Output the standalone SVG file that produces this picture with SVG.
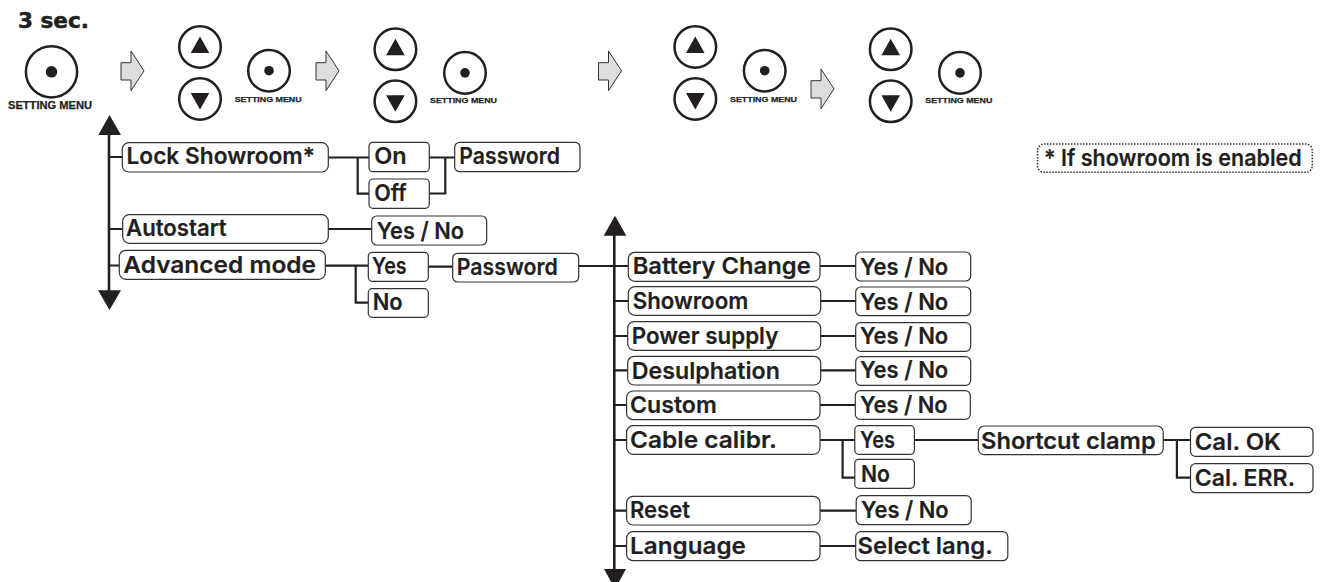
<svg xmlns="http://www.w3.org/2000/svg" xmlns:xlink="http://www.w3.org/1999/xlink" width="1327" height="582" viewBox="0 0 1327 582">
<style>
text{font-family:"Inter","Liberation Sans",sans-serif;font-weight:600;font-size:23.5px;fill:#231f20;stroke:#231f20;stroke-width:.2}
.b{fill:#fff;stroke:#333;stroke-width:1.2}
.d{fill:#fff;stroke:#333;stroke-width:1.5;stroke-dasharray:1.5 1.5}
.sm{font-family:"Liberation Sans",sans-serif;font-size:8px;font-weight:700;stroke-width:.25}
.sb{font-family:"Liberation Sans",sans-serif;font-size:10px;font-weight:700;stroke-width:.25}
.t3{font-family:"DejaVu Sans",sans-serif;font-size:21.5px;font-weight:700;stroke-width:.5}
.k{fill:#fff;stroke:#231f20;stroke-width:2.5}
.f{fill:#231f20}
.a{fill:#dcddde;stroke:#333;stroke-width:1}
#connectors path{fill:none;stroke:#231f20;stroke-width:2.2}
#connectors .v{stroke-width:2.6}
#connectors .h{fill:#231f20;stroke:none}
</style>
<defs>
<g id="up"><circle class="k" r="20.800"/><path class="f" d="M0-10.500L9.300 6H-9.300Z"/></g>
<g id="dn"><circle class="k" r="20.800"/><path class="f" d="M0 10.500L9.300-6H-9.300Z"/></g>
<g id="ok"><circle class="k" r="20.800"/><circle class="f" r="4.800"/></g>
<g id="okb"><circle class="k" r="25.600"/><circle class="f" r="5.800"/></g>
<path id="ar" class="a" d="M121 62.700H131V51L144 70.800L131 90.700V80H121Z"/>
</defs>
<g id="connectors">
<path class="v" d="M109 130V295"/>
<path class="h" d="M109.500 115L121 135H98.300Z"/>
<path class="h" d="M109.500 310L121 290.300H98Z"/>
<path d="M109 157H123M109 229H123M109 265.500H120"/>
<path d="M328 157.500H369M357.700 157.500V193.700H369M429 157.500H455M429 193.500H445.300V157.500"/>
<path d="M328 229H372"/>
<path d="M325 265.700H368.500M355.700 265.700V302.700H368.500M428 266.700H453M578.500 266H628.500"/>
<path class="v" d="M614.300 230V575"/>
<path class="h" d="M615 215.700L626.300 235.700H603.700Z"/>
<path class="h" d="M615 589L626 569H604Z"/>
<path d="M614.300 301H628.500M614.300 336H628M614.300 370.300H628M614.300 405H627M614.300 440H627M614.300 510.700H627M614.300 546H627"/>
<path d="M820 266H856M820.500 301H856M820.500 336H856M820.500 370.300H856M820 405H855.500M820 510.700H856.500M820 546H856"/>
<path d="M820 440H855M842.600 440V477.700H855M914.400 440H978.500M1163 440H1190.500M1176.900 440V477.700H1190.500"/>
</g>
<g id="b1"><text class="t3" x="18" y="28" textLength="71" lengthAdjust="spacingAndGlyphs">3 sec.</text><use xlink:href="#okb" x="51.500" y="71.800"/><text class="sb" x="8" y="108.500" textLength="84" lengthAdjust="spacingAndGlyphs">SETTING MENU</text></g>
<g id="a1"><use xlink:href="#ar"/></g>
<g id="g1"><use xlink:href="#up" x="200" y="47"/><use xlink:href="#dn" x="200" y="99"/><use xlink:href="#ok" x="269" y="70.700"/><text class="sm" x="234.700" y="101.500" textLength="67" lengthAdjust="spacingAndGlyphs">SETTING MENU</text></g>
<g id="a2"><use xlink:href="#ar" x="195"/></g>
<g id="g2"><use xlink:href="#up" x="395.400" y="49.300"/><use xlink:href="#dn" x="395.400" y="101.300"/><use xlink:href="#ok" x="465" y="72.900"/><text class="sm" x="430" y="103" textLength="67" lengthAdjust="spacingAndGlyphs">SETTING MENU</text></g>
<g id="a3"><use xlink:href="#ar" x="477.500"/></g>
<g id="g3"><use xlink:href="#up" x="695.300" y="47"/><use xlink:href="#dn" x="695.300" y="99"/><use xlink:href="#ok" x="764.700" y="70.700"/><text class="sm" x="730" y="101.500" textLength="67" lengthAdjust="spacingAndGlyphs">SETTING MENU</text></g>
<g id="a4"><use xlink:href="#ar" x="690" y="18"/></g>
<g id="g4"><use xlink:href="#up" x="890.700" y="49.300"/><use xlink:href="#dn" x="890.700" y="101.300"/><use xlink:href="#ok" x="960" y="72.900"/><text class="sm" x="925.300" y="103" textLength="67" lengthAdjust="spacingAndGlyphs">SETTING MENU</text></g>

<g id="n1"><rect class="b" x="122.300" y="142.700" width="206" height="29.300" rx="6.500"/><text x="126.500" y="164.300" textLength="188.500" lengthAdjust="spacingAndGlyphs">Lock Showroom*</text></g>
<g id="n2"><rect class="b" x="369" y="142.300" width="60.300" height="29.400" rx="4"/><text x="374.300" y="164.300" textLength="32.400" lengthAdjust="spacingAndGlyphs">On</text></g>
<g id="n3"><rect class="b" x="369" y="179" width="60.300" height="29.300" rx="4"/><text x="374.300" y="200.700" textLength="32.400" lengthAdjust="spacingAndGlyphs">Off</text></g>
<g id="n4"><rect class="b" x="454.700" y="142.300" width="125.300" height="29.400" rx="5"/><text x="459.300" y="164.300" textLength="100.700" lengthAdjust="spacingAndGlyphs">Password</text></g>
<g id="n5"><rect class="b" x="122.700" y="214.700" width="205.600" height="28.600" rx="6.500"/><text x="126" y="236" textLength="100.700" lengthAdjust="spacingAndGlyphs">Autostart</text></g>
<g id="n6"><rect class="b" x="371.700" y="216" width="115" height="29" rx="5"/><text x="376.700" y="239" textLength="87.300" lengthAdjust="spacingAndGlyphs">Yes / No</text></g>
<g id="n7"><rect class="b" x="119.300" y="250.300" width="206" height="29" rx="6.500"/><text x="123.300" y="272.700" textLength="192.700" lengthAdjust="spacingAndGlyphs">Advanced mode</text></g>
<g id="n8"><rect class="b" x="368.300" y="252.300" width="60" height="29" rx="4"/><text x="372" y="274" textLength="34.700" lengthAdjust="spacingAndGlyphs">Yes</text></g>
<g id="n9"><rect class="b" x="368.300" y="288.700" width="60" height="28.600" rx="4"/><text x="372.700" y="310" textLength="30" lengthAdjust="spacingAndGlyphs">No</text></g>
<g id="n10"><rect class="b" x="452.700" y="253.300" width="126" height="28.700" rx="5"/><text x="456.700" y="275.300" textLength="101" lengthAdjust="spacingAndGlyphs">Password</text></g>

<g id="m1"><rect class="b" x="628.300" y="252.300" width="191.700" height="29" rx="6.500"/><text x="632.700" y="274" textLength="178" lengthAdjust="spacingAndGlyphs">Battery Change</text></g>
<g id="m2"><rect class="b" x="628.300" y="286.700" width="192.400" height="28.600" rx="6.500"/><text x="632.700" y="309.300" textLength="115.600" lengthAdjust="spacingAndGlyphs">Showroom</text></g>
<g id="m3"><rect class="b" x="627.700" y="321.700" width="193" height="28.600" rx="6.500"/><text x="631.700" y="344" textLength="146.600" lengthAdjust="spacingAndGlyphs">Power supply</text></g>
<g id="m4"><rect class="b" x="627.700" y="356.300" width="193" height="28.700" rx="6.500"/><text x="631.700" y="379" textLength="148.300" lengthAdjust="spacingAndGlyphs">Desulphation</text></g>
<g id="m5"><rect class="b" x="626.600" y="391" width="193.400" height="28.700" rx="6.500"/><text x="630" y="413.300" textLength="86.800" lengthAdjust="spacingAndGlyphs">Custom</text></g>
<g id="m6"><rect class="b" x="626.600" y="425.700" width="193.400" height="28.600" rx="6.500"/><text x="630" y="448.300" textLength="146.900" lengthAdjust="spacingAndGlyphs">Cable calibr.</text></g>
<g id="m7"><rect class="b" x="626.600" y="496.300" width="193.400" height="28.700" rx="6.500"/><text x="630" y="518.300" textLength="60" lengthAdjust="spacingAndGlyphs">Reset</text></g>
<g id="m8"><rect class="b" x="626.600" y="531.700" width="193.400" height="29" rx="6.500"/><text x="630" y="554" textLength="115.900" lengthAdjust="spacingAndGlyphs">Language</text></g>

<g id="y1"><rect class="b" x="855.700" y="252" width="115" height="29" rx="5"/><text x="860" y="275" textLength="88.300" lengthAdjust="spacingAndGlyphs">Yes / No</text></g>
<g id="y2"><rect class="b" x="855.700" y="287" width="115" height="28.700" rx="5"/><text x="860" y="309.700" textLength="88.300" lengthAdjust="spacingAndGlyphs">Yes / No</text></g>
<g id="y3"><rect class="b" x="855.700" y="322.700" width="115" height="28.600" rx="5"/><text x="860" y="344.300" textLength="88.300" lengthAdjust="spacingAndGlyphs">Yes / No</text></g>
<g id="y4"><rect class="b" x="855.700" y="356.700" width="115" height="28.600" rx="5"/><text x="860" y="378.300" textLength="88.300" lengthAdjust="spacingAndGlyphs">Yes / No</text></g>
<g id="y5"><rect class="b" x="855.300" y="390.700" width="115" height="28.600" rx="5"/><text x="860" y="413.300" textLength="87.700" lengthAdjust="spacingAndGlyphs">Yes / No</text></g>
<g id="y6"><rect class="b" x="854.800" y="425.700" width="59.600" height="28.600" rx="4"/><text x="860" y="448.300" textLength="35" lengthAdjust="spacingAndGlyphs">Yes</text></g>
<g id="y7"><rect class="b" x="854.800" y="459.300" width="59.600" height="29" rx="4"/><text x="860.900" y="481.700" textLength="29" lengthAdjust="spacingAndGlyphs">No</text></g>
<g id="y8"><rect class="b" x="856.200" y="495.700" width="115" height="29" rx="5"/><text x="861" y="518.300" textLength="87.700" lengthAdjust="spacingAndGlyphs">Yes / No</text></g>
<g id="y9"><rect class="b" x="855.700" y="531.700" width="152.100" height="29" rx="5"/><text x="857.600" y="554" textLength="135.200" lengthAdjust="spacingAndGlyphs">Select lang.</text></g>
<g id="s1"><rect class="b" x="978.300" y="426" width="184.900" height="28.700" rx="6"/><text x="981" y="449.300" textLength="174.700" lengthAdjust="spacingAndGlyphs">Shortcut clamp</text></g>
<g id="s2"><rect class="b" x="1190.500" y="427.300" width="122.500" height="29" rx="5"/><text x="1194.700" y="450" textLength="86.300" lengthAdjust="spacingAndGlyphs">Cal. OK</text></g>
<g id="s3"><rect class="b" x="1190.500" y="463.700" width="122.500" height="29" rx="5"/><text x="1194.700" y="486" textLength="100.300" lengthAdjust="spacingAndGlyphs">Cal. ERR.</text></g>
<g id="note"><rect class="d" x="1037.500" y="144" width="274.800" height="28.300" rx="6.500"/><text x="1044" y="165.700" textLength="257.700" lengthAdjust="spacingAndGlyphs">* If showroom is enabled</text></g>
</svg>
